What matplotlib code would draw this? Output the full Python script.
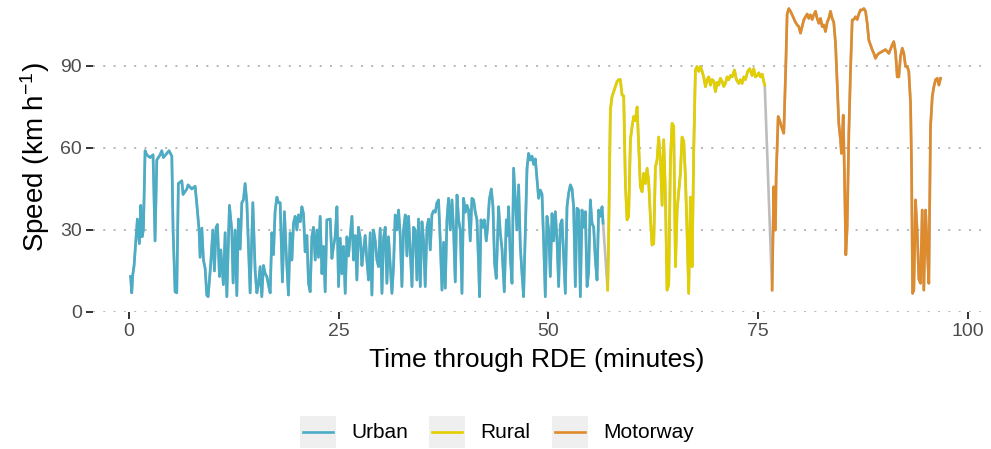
import matplotlib
matplotlib.use("Agg")
import matplotlib.pyplot as plt
from matplotlib.lines import Line2D
from matplotlib.patches import Rectangle

plt.rcParams["font.family"] = ["Liberation Sans", "DejaVu Sans"]

# time (minutes) and speed (km/h)
urban_t = [0.18, 0.32, 0.44, 0.60, 0.84, 0.99, 1.23, 1.40, 1.55, 1.71, 1.91, 2.11, 2.51, 2.86, 3.10,
           3.31, 3.70, 3.90, 4.09, 4.50, 4.77, 5.10, 5.25, 5.49, 5.69, 5.88, 6.29, 6.44, 6.89, 7.04,
           7.48, 7.88, 8.11, 8.35, 8.47, 8.68, 8.87, 9.07, 9.27, 9.43, 9.75, 9.99, 10.18, 10.38, 10.54,
           10.78, 10.94, 11.25, 11.46, 11.66, 11.97, 12.25, 12.41, 12.65, 12.85, 13.04, 13.25, 13.45,
           13.64, 13.84, 14.05, 14.44, 14.76, 15.04, 15.24, 15.43, 15.63, 15.83, 16.03, 16.23, 16.43,
           16.62, 16.83, 17.03, 17.22, 17.42, 17.63, 17.82, 18.02, 18.29, 18.53, 18.74, 19.01, 19.21,
           19.42, 19.61, 19.81, 20.01, 20.20, 20.41, 20.61, 20.80, 21.00, 21.21, 21.40, 21.60, 21.80,
           21.99, 22.20, 22.40, 22.59, 22.79, 23.00, 23.19, 23.39, 23.59, 23.99, 24.19, 24.38, 24.58,
           24.79, 24.98, 25.18, 25.38, 25.57, 25.78, 25.98, 26.17, 26.37, 26.58, 26.77, 26.97, 27.17,
           27.36, 27.57, 27.77, 27.96, 28.16, 28.36, 28.56, 28.76, 28.96, 29.15, 29.36, 29.56, 29.75,
           29.95, 30.16, 30.35, 30.55, 30.75, 30.94, 31.15, 31.35, 31.54, 31.74, 31.94, 32.14, 32.34,
           32.54, 32.73, 32.94, 33.14, 33.33, 33.53, 33.74, 33.93, 34.13, 34.33, 34.52, 34.73, 34.93,
           35.12, 35.32, 35.53, 35.72, 35.92, 36.12, 36.31, 36.52, 36.72, 36.91, 37.11, 37.32, 37.51,
           37.71, 37.91, 38.10, 38.31, 38.51, 38.70, 38.90, 39.11, 39.30, 39.50, 39.70, 39.89, 40.10,
           40.30, 40.49, 40.69, 40.89, 41.09, 41.29, 41.49, 41.68, 41.80, 41.97, 42.16, 42.36, 42.60,
           42.76, 42.96, 43.20, 43.40, 43.59, 43.79, 44.07, 44.27, 44.48, 44.75, 44.99, 45.14, 45.26,
           45.47, 45.67, 45.86, 46.06, 46.26, 46.46, 46.66, 46.86, 47.05, 47.26, 47.46, 47.65, 47.85,
           48.05, 48.25, 48.45, 48.65, 48.84, 49.05, 49.25, 49.44, 49.64, 49.84, 50.04, 50.24, 50.44,
           50.63, 50.84, 51.04, 51.23, 51.43, 51.63, 51.83, 52.03, 52.23, 52.42, 52.63, 52.83, 53.02,
           53.22, 53.42, 53.62, 53.82, 54.02, 54.21, 54.42, 54.62, 54.81, 55.01, 55.21, 55.41, 55.61,
           55.81, 56.00, 56.21, 56.41, 56.53]
urban_v = [13, 7, 13.5, 17, 27.5, 34, 25, 39, 27.5, 30, 59, 57.5, 56.5, 57.5, 26,
           55.6, 57.5, 59, 56.5, 58, 59, 57, 30, 7.4, 7, 47, 48, 43, 45, 46.5,
           45, 46, 38.5, 30, 20, 30.7, 19, 16, 6.2, 5.6, 18, 30, 15, 31, 32,
           13, 22.7, 10, 29, 5.6, 39, 30, 10.6, 30, 6, 34, 23, 40,
           41, 47, 40, 7, 40, 15, 7, 10, 16.6, 5.6, 17, 14, 13,
           10, 7, 29, 21, 37, 42, 40, 40, 11, 36.7, 21.5, 6.2, 29,
           19, 32.5, 35, 30, 35.5, 33, 38.5, 36, 22, 28, 10.5, 7.4, 27.5,
           31, 19, 30, 20, 35, 14, 24, 7.4, 33.7, 34, 19.6, 24, 27.5,
           38.5, 9.3, 27, 14, 24, 6.8, 27.5, 20.5, 27.5, 35, 19, 28, 11.7,
           31, 27, 17, 22.7, 28, 19, 11.7, 29, 6.2, 30, 26, 19, 16.6,
           30.6, 6.8, 27, 31, 10.5, 27.5, 17, 6.8, 16.6, 35.5, 30, 37.3, 28,
           9.3, 30, 35.5, 20.5, 35, 22.7, 9.3, 31, 30, 11.7, 34, 9.3, 33,
           26, 9.3, 31, 34, 22.7, 35.5, 37, 36.5, 40, 41, 26, 8, 25.5,
           8.7, 33.7, 41.6, 30, 41, 30, 11, 42.8, 33.7, 30, 6.8, 41.6, 36.5,
           39, 37.3, 26, 41.6, 41, 36.5, 33.7, 17.8, 5.6, 33.7, 31, 33.7, 26,
           31, 41, 45, 38.5, 17.8, 12.3, 38.5, 29, 23, 7.4, 33.7, 28, 38.5,
           20, 10.5, 52.6, 41, 30, 46.5, 24, 14, 5.6, 29, 52.6, 58, 55.6,
           57, 54, 56, 48.5, 41.6, 44.6, 43, 26, 5.6, 35, 30, 13, 36,
           26, 36.7, 26, 9.3, 31.8, 33.7, 20, 6.8, 38.5, 43.4, 46.5, 45, 38.5,
           9.3, 38, 37.3, 5.6, 37.3, 31, 36.7, 9.3, 14.5, 41, 32.5, 31, 19,
           11.7, 37.3, 35, 38.5, 32.5]

rural_t = [57.08, 57.20, 57.40, 57.60, 57.79, 57.99, 58.20, 58.39, 58.59, 58.79, 58.99, 59.19, 59.39,
           59.58, 59.79, 59.99, 60.18, 60.38, 60.59, 60.78, 60.98, 61.18, 61.37, 61.58, 61.78, 61.97,
           62.17, 62.37, 62.57, 62.77, 62.97, 63.16, 63.37, 63.57, 63.76, 63.96, 64.16, 64.36, 64.56,
           64.76, 64.95, 65.16, 65.36, 65.55, 65.75, 65.95, 66.15, 66.35, 66.55, 66.74, 66.95, 67.15,
           67.34, 67.54, 67.74, 67.94, 68.14, 68.34, 68.53, 68.74, 68.94, 69.13, 69.33, 69.53, 69.73,
           69.93, 70.13, 70.32, 70.52, 70.73, 70.92, 71.12, 71.32, 71.52, 71.72, 71.92, 72.20, 72.43,
           72.71, 72.90, 73.11, 73.31, 73.51, 73.78, 74.02, 74.31, 74.50, 74.70, 74.90, 75.10, 75.30,
           75.50, 75.69, 75.81]
rural_v = [8, 29, 74, 78.8, 80.5, 82.4, 84.3, 85, 85, 79.4, 79, 47, 33.7,
           35, 63, 67.8, 71.5, 70, 75, 60.5, 45.8, 44, 50.7, 47, 52.6, 47.5,
           35, 24.5, 25, 53, 55.6, 64, 55.6, 39, 63, 43.4, 8, 10, 55.6,
           69, 68, 16.6, 37.3, 44, 50.7, 64, 62.5, 49.5, 28.8, 6.8, 42, 16.6,
           59, 88.5, 89.8, 88, 89.8, 88, 86, 82.4, 85, 86, 83, 85, 84.5,
           80.6, 84, 83, 85.5, 84.3, 82.5, 83.6, 86, 85, 86.5, 86, 88.5, 85,
           83.6, 85, 83.6, 86, 85, 88, 89, 86.5, 89, 86, 86.5, 87.5, 86,
           87, 84.3, 83]

motorway_t = [76.69, 76.81, 76.88, 77.00, 77.09, 77.17, 77.41, 77.60, 77.89, 78.08, 78.32, 78.48,
              78.68, 78.88, 79.08, 79.27, 79.47, 79.68, 79.87, 80.07, 80.27, 80.46, 80.67, 80.87,
              81.06, 81.26, 81.47, 81.66, 81.86, 82.06, 82.26, 82.46, 82.66, 82.85, 83.05, 83.26,
              83.45, 83.65, 83.85, 84.04, 84.25, 84.45, 84.64, 84.84, 84.96, 85.17, 85.32, 85.48,
              85.64, 85.84, 86.04, 86.24, 86.43, 86.63, 86.84, 87.03, 87.23, 87.43, 87.63, 87.83,
              88.03, 88.22, 88.42, 88.63, 88.82, 89.02, 89.22, 89.42, 89.82, 90.21, 90.61, 91.01,
              91.20, 91.41, 91.61, 91.80, 92.00, 92.21, 92.40, 92.60, 92.80, 92.99, 93.20, 93.32,
              93.44, 93.59, 93.79, 94.00, 94.19, 94.39, 94.59, 94.78, 94.99, 95.19, 95.38, 95.58,
              95.79, 95.98, 96.18, 96.38, 96.58, 96.78]
motorway_v = [8, 31, 45.8, 30, 30, 49.5, 71.5, 70, 67, 65.4, 90, 109,
              111, 110, 108.7, 107.4, 106, 105, 104.4, 102, 104.4, 106.8, 108, 109,
              107.4, 108.7, 107, 108.7, 110, 107.4, 105.6, 107.4, 104.4, 105, 102.6, 106,
              107.4, 110, 107.4, 106, 98.3, 83.6, 69, 63, 58, 72, 50, 20.9,
              31, 65.4, 88.5, 106.8, 107, 108, 107, 109, 110.5, 110.5, 111, 110,
              105.6, 99.5, 97.7, 95.9, 94.6, 92.8, 94, 94.6, 95.3, 96, 94.6, 97.7,
              98.9, 95, 86, 86, 93.5, 96.5, 94.6, 89.8, 89.8, 88, 76.3, 53,
              6.8, 8, 41, 28.8, 12, 10.5, 37.3, 8, 37.3, 23, 10.5, 67.8,
              78.8, 82.4, 85, 85.5, 83, 85.5]

phases = ["Urban", "Rural", "Motorway"]
colours = ["#4BACC6", "#E2CF00", "#DE8B2E"]
x_ticks = [0, 25, 50, 75, 100]
y_ticks = [0, 30, 60, 90]

fig = plt.figure(figsize=(9.91, 4.49), dpi=100)
ax = fig.add_axes([93 / 991, 137 / 449, 888 / 991, 310 / 449])

# grey trace underneath joins the phases
all_t = urban_t + rural_t + motorway_t
all_v = urban_v + rural_v + motorway_v
ax.plot(all_t, all_v, color="#BDBDBD", lw=1.9, zorder=2)
for tt, vv, c in zip([urban_t, rural_t, motorway_t], [urban_v, rural_v, motorway_v], colours):
    ax.plot(tt, vv, color=c, lw=1.9, zorder=3, solid_joinstyle="round")

ax.set_xlim(-4.3, 101.6)
ax.set_ylim(0, 113.4)
ax.set_xticks(x_ticks)
ax.set_yticks(y_ticks)
ax.grid(axis="y", color="#B5B5B5", lw=1.4, linestyle=(0, (1, 4.3)))
ax.grid(axis="x", visible=False)
for s in ax.spines.values():
    s.set_visible(False)
ax.tick_params(length=5, width=1.4, color="#333333", labelcolor="#4D4D4D", labelsize=14, pad=3)
ax.set_xlabel("Time through RDE (minutes)", fontsize=19, labelpad=6)
ax.set_ylabel("Speed (km h$\\mathregular{^{-1}}$)", fontsize=20, labelpad=6)

# legend with grey key boxes along the bottom
key_x = [300, 429, 552]
for x0, lab, c in zip(key_x, phases, colours):
    fig.add_artist(Rectangle((x0 / 991, 1 / 449), 36 / 991, 32 / 449,
                             transform=fig.transFigure, facecolor="#EFEFEF", edgecolor="none"))
    fig.add_artist(Line2D([(x0 + 3) / 991, (x0 + 33) / 991], [17 / 449, 17 / 449],
                          transform=fig.transFigure, color=c, lw=1.9))
    fig.text((x0 + 51) / 991, 17 / 449, lab, fontsize=15, va="center", ha="left", color="black")

fig.savefig("out.png", dpi=100)
